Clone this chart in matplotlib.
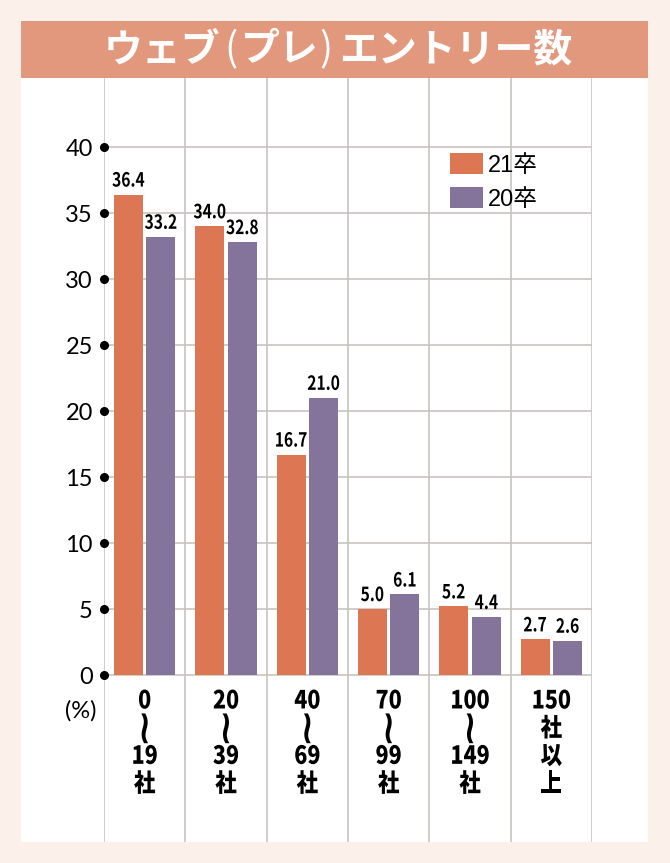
import matplotlib
matplotlib.use("Agg")
import matplotlib.pyplot as plt
from matplotlib.patches import Rectangle
from matplotlib.transforms import Affine2D
import matplotlib.patheffects as pe
import numpy as np

categories = ["0\n≀\n19\n社", "20\n≀\n39\n社", "40\n≀\n69\n社", "70\n≀\n99\n社", "100\n≀\n149\n社", "150\n社\n以\n上"]
series_names = ["21卒", "20卒"]
values_21 = [36.4, 34.0, 16.7, 5.0, 5.2, 2.7]
values_20 = [33.2, 32.8, 21.0, 6.1, 4.4, 2.6]
yticks = [0, 5, 10, 15, 20, 25, 30, 35, 40]
title_parts = ["ウェブ", "(", "プレ", ")", "エントリー数"]

C21 = "#dc7653"
C20 = "#84739b"
BANNER = "#e2987c"
BG = "#fbf0ea"
GRID = "#c4c0ba"


class Condense(pe.AbstractPathEffect):
    """Narrow the glyphs horizontally about each line's centre; enlarge the
    slim vertical wave-dash line so it reads like the reference."""
    def __init__(self, sx=0.85, wave_scale=None):
        super().__init__()
        self.sx = sx
        self.wave_scale = wave_scale

    def draw_path(self, renderer, gc, tpath, affine, rgbFace=None):
        ext = tpath.get_extents()
        cx = (ext.x0 + ext.x1) / 2
        cy = (ext.y0 + ext.y1) / 2
        if self.wave_scale and ext.height > 0 and ext.width < 0.5 * ext.height:
            sxw, syw = self.wave_scale
            t = Affine2D().translate(-cx, -cy).scale(sxw, syw).translate(cx, cy) + affine
        else:
            t = Affine2D().translate(-cx, 0).scale(self.sx, 1).translate(cx, 0) + affine
        renderer.draw_path(gc, tpath, t, rgbFace)


W, H = 670, 863
fig = plt.figure(figsize=(W / 100, H / 100), dpi=100, facecolor=BG)

def fx(px):
    return px / W

def fy(py):
    return 1 - py / H

# white panel and banner
fig.patches.append(Rectangle((fx(21), fy(842)), fx(648) - fx(21), fy(78) - fy(842),
                             transform=fig.transFigure, facecolor="white", edgecolor="none", zorder=-5))
fig.patches.append(Rectangle((fx(21), fy(78)), fx(648) - fx(21), fy(21) - fy(78),
                             transform=fig.transFigure, facecolor=BANNER, edgecolor="none", zorder=-5))
title_cx = [162, 231, 280, 326, 456]
for part, cxp in zip(title_parts, title_cx):
    is_paren = part in "()"
    fig.text(fx(cxp), fy(50), part, ha="center", va="center", color="white",
             fontsize=28, fontweight="normal" if is_paren else "bold",
             family=["Noto Sans CJK JP", "DejaVu Sans"])

# axes
y0, y40 = 675, 147
ppu = (y0 - y40) / 40.0
ytop = (y0 - 78) / ppu
ybot = (y0 - 842) / ppu
ax = fig.add_axes([fx(104), fy(842), fx(592) - fx(104), fy(78) - fy(842)])
ax.set_zorder(2)
ax.set_facecolor("none")
ax.set_xlim(-0.5, 5.5)
ax.set_ylim(ybot, ytop)
for s in ax.spines.values():
    s.set_visible(False)

n = len(categories)
for k in range(n + 1):
    ax.axvline(-0.5 + k, color=GRID, lw=1.1, zorder=1)
ax.hlines(yticks, -0.5, n - 0.5, color=GRID, lw=1.1, zorder=1)

x = np.arange(n)
bw = 0.355
off = 0.2
b1 = ax.bar(x - off, values_21, bw, color=C21, zorder=2, label=series_names[0])
b2 = ax.bar(x + off, values_20, bw, color=C20, zorder=2, label=series_names[1])

numfont = ["Noto Sans CJK JP", "DejaVu Sans"]
for xs, vals in ((x - off, values_21), (x + off, values_20)):
    for xi, v in zip(xs, vals):
        ax.text(xi, v + 0.3, f"{v:.1f}", ha="center", va="bottom", fontsize=14,
                fontweight="bold", family=numfont, zorder=3, path_effects=[Condense(0.8)])

# y ticks with dots
ax.set_xticks([])
ax.set_yticks(yticks)
ax.set_yticklabels([str(t) for t in yticks], fontsize=17, family=["Lato", "DejaVu Sans"],
                   color="black")
ax.tick_params(axis="y", length=0, pad=8)
ax.plot([-0.5] * len(yticks), yticks, "o", color="black", ms=5.5, clip_on=False, zorder=4)

ax.text(-0.5 - 7 / 81.3, (y0 - 711) / ppu, "(%)", ha="right", va="center",
        fontsize=17, family=["Lato", "DejaVu Sans"], color="black")

# category labels, stacked vertically (one multi-line text per category)
for i, lab in enumerate(categories):
    ax.text(i, (y0 - 742) / ppu, lab, ha="center", va="center", ma="center",
            fontsize=18, fontweight="heavy", linespacing=1.08, family=numfont,
            zorder=3, path_effects=[Condense(0.86, wave_scale=(1.35, 1.9))])

leg = fig.legend(handles=[b1, b2], labels=series_names, loc="upper left",
                 bbox_to_anchor=(fx(450), fy(153)), frameon=False, borderpad=0,
                 borderaxespad=0, handlelength=1.4, handleheight=1.0, handletextpad=0.2,
                 labelspacing=0.45, prop={"family": ["Liberation Sans", "Noto Sans CJK JP"], "size": 17})

fig.savefig("out.png", dpi=100, facecolor=BG)
